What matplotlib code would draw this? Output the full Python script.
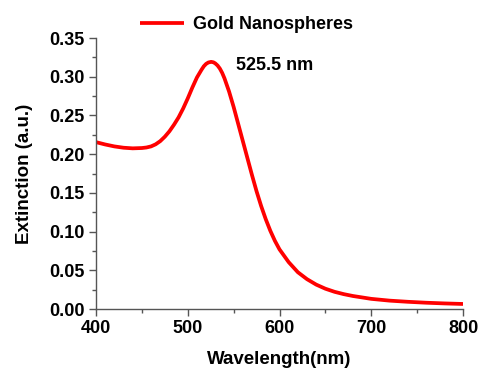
import matplotlib
matplotlib.use("Agg")
import matplotlib.pyplot as plt
from matplotlib.ticker import MultipleLocator

wavelength = [400, 410, 420, 430, 440, 450, 455, 460, 465, 470, 475, 480, 485, 490, 495,
              500, 505, 510, 515, 517.5, 520, 522.5, 525.5, 528, 530, 532.5, 535, 537.5,
              540, 545, 550, 555, 560, 565, 570, 575, 580, 585, 590, 595, 600, 610, 620,
              630, 640, 650, 660, 670, 680, 700, 720, 740, 760, 780, 800]
extinction = [0.2155, 0.2125, 0.2100, 0.2083, 0.2075, 0.2079, 0.2086, 0.2100, 0.2127, 0.2168,
              0.2225, 0.2295, 0.2380, 0.2475, 0.2590, 0.2720, 0.2860, 0.2990, 0.3090, 0.3135,
              0.3166, 0.3184, 0.3192, 0.3186, 0.3172, 0.3145, 0.3105, 0.3050, 0.2980, 0.2810,
              0.2610, 0.2390, 0.2170, 0.1950, 0.1730, 0.1520, 0.1330, 0.1160, 0.1010, 0.0880,
              0.0770, 0.0605, 0.0475, 0.0385, 0.0315, 0.0262, 0.0222, 0.0192, 0.0168, 0.0131,
              0.0108, 0.0093, 0.0081, 0.0072, 0.0065]
series_label = "Gold Nanospheres"
peak_label = "525.5 nm"

plt.rcParams['font.family'] = ['Liberation Sans', 'DejaVu Sans']
plt.rcParams['font.weight'] = 'bold'

fig = plt.figure(figsize=(4.8, 3.69), dpi=100)
ax = fig.add_axes([0.2, 0.1626, 0.7646, 0.7344])
ax.plot(wavelength, extinction, color='#ff0000', lw=2.7, label=series_label,
        solid_joinstyle='round', solid_capstyle='butt')
ax.set_xlim(400, 800)
ax.set_ylim(0, 0.35)
ax.xaxis.set_major_locator(MultipleLocator(100))
ax.xaxis.set_minor_locator(MultipleLocator(50))
ax.yaxis.set_major_locator(MultipleLocator(0.05))
ax.yaxis.set_minor_locator(MultipleLocator(0.025))
ax.yaxis.set_major_formatter(matplotlib.ticker.FormatStrFormatter('%.2f'))
for s in ['top', 'right']:
    ax.spines[s].set_visible(False)
for s in ['left', 'bottom']:
    ax.spines[s].set_color('#555555')
    ax.spines[s].set_linewidth(1.0)
ax.tick_params(which='major', direction='out', length=5, width=1, color='#555555',
               labelsize=13, pad=3)
ax.tick_params(which='minor', direction='out', length=3, width=1, color='#555555')
for lbl in ax.get_xticklabels() + ax.get_yticklabels():
    lbl.set_fontweight('bold')
ax.set_xlabel('Wavelength(nm)', fontsize=13.5, fontweight='bold', labelpad=10)
ax.set_ylabel('Extinction (a.u.)', fontsize=13.5, fontweight='bold', labelpad=12)
ax.text(552.5, 0.314, peak_label, fontsize=13, fontweight='bold', va='center', ha='left')
leg = ax.legend(loc='lower center', bbox_to_anchor=(0.41, 0.985), frameon=False,
                prop={'size': 13, 'weight': 'bold'}, handlelength=2.4, handletextpad=0.5,
                borderaxespad=0.1)
fig.savefig('out.png', dpi=100)
